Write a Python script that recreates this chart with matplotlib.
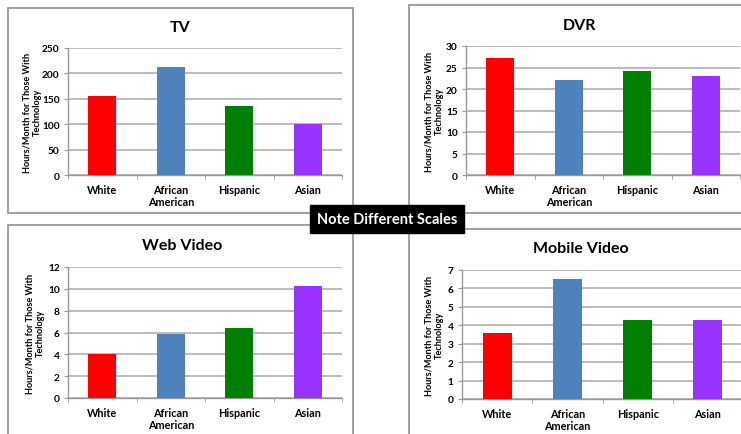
import numpy as np
import matplotlib
matplotlib.use('Agg')
import matplotlib.pyplot as plt
from matplotlib.patches import Rectangle

plt.rcParams['font.family'] = ['Lato', 'DejaVu Sans']
plt.rcParams['font.weight'] = 'bold'

groups = ['White', 'African\nAmerican', 'Hispanic', 'Asian']
colors = ['#ff0000', '#4f81bd', '#008000', '#9933ff']

tv = [155, 212, 135, 100]
dvr = [27.2, 22.0, 24.1, 23.0]
web_video = [4.05, 5.9, 6.45, 10.3]
mobile_video = [3.6, 6.5, 4.3, 4.3]

W, H = 741, 435
fig = plt.figure(figsize=(W / 100, H / 100), dpi=100)
fig.patch.set_facecolor('white')


def px_rect(x0, y0, x1, y1):
    # pixel box (top-left origin) -> figure fraction [left, bottom, width, height]
    return [x0 / W, 1 - y1 / H, (x1 - x0) / W, (y1 - y0) / H]


panels = [
    # title, values, ymax, step, frame box, axes box, title pos, ylabel x
    ('TV', tv, 250, 50, (8, 9, 353, 214), (68, 49, 342, 176), (180, 28), 32),
    ('DVR', dvr, 30, 5, (409, 6, 760, 214), (466, 47, 740, 176), (579, 26), 434),
    ('Web Video', web_video, 12, 2, (8, 226, 353, 450), (68, 268, 342, 399), (182, 246), 35),
    ('Mobile Video', mobile_video, 7, 1, (409, 230, 760, 450), (462, 271, 743, 400), (581, 249), 434),
]

for title, vals, ymax, step, frame, box, tpos, ylx in panels:
    fx0, fy0, fx1, fy1 = frame
    fig.patches.append(Rectangle((fx0 / W, 1 - fy1 / H), (fx1 - fx0) / W, (fy1 - fy0) / H,
                                 transform=fig.transFigure, fill=False,
                                 edgecolor='#999999', linewidth=1.3, zorder=0))

    ax = fig.add_axes(px_rect(*box))
    x = np.arange(len(groups))
    ax.bar(x, vals, width=0.41, color=colors, zorder=3)
    ax.set_xlim(-0.5, 3.5)
    ax.set_ylim(0, ymax)
    ax.set_yticks(np.arange(0, ymax + step / 2, step))
    ax.yaxis.grid(True, color='#b0b0b0', linewidth=1.2, zorder=0)
    ax.set_xticks(x)
    ax.set_xticklabels(groups, fontsize=7.8, fontweight='bold', linespacing=1.1)
    ax.set_xticks(np.arange(-0.5, 4, 1), minor=True)
    ax.tick_params(axis='x', which='major', length=0, pad=6.5)
    ax.tick_params(axis='x', which='minor', length=3, color='#999999', direction='out')
    ax.tick_params(axis='y', length=3, color='#999999', labelsize=7.3, pad=3)
    for lab in ax.get_yticklabels():
        lab.set_fontweight('bold')
    for s in ['top', 'right']:
        ax.spines[s].set_visible(False)
    for s in ['left', 'bottom']:
        ax.spines[s].set_color('#999999')
        ax.spines[s].set_linewidth(1.0)

    fig.text(tpos[0] / W, 1 - tpos[1] / H, title, ha='center', va='center',
             fontsize=11.5, fontweight='bold')
    cy = (box[1] + box[3]) / 2
    fig.text(ylx / W, 1 - cy / H, 'Hours/Month for Those With\nTechnology',
             rotation=90, ha='center', va='center', multialignment='center',
             fontsize=6.6, fontweight='bold', linespacing=1.2)

# centre note box
fig.text(387 / W, 1 - 220 / H, 'Note Different Scales', ha='center', va='center',
         color='white', fontsize=10.5, fontweight='bold', zorder=10,
         bbox=dict(boxstyle='square,pad=0.45', facecolor='black', edgecolor='black'))

fig.savefig('out.png', dpi=100)
